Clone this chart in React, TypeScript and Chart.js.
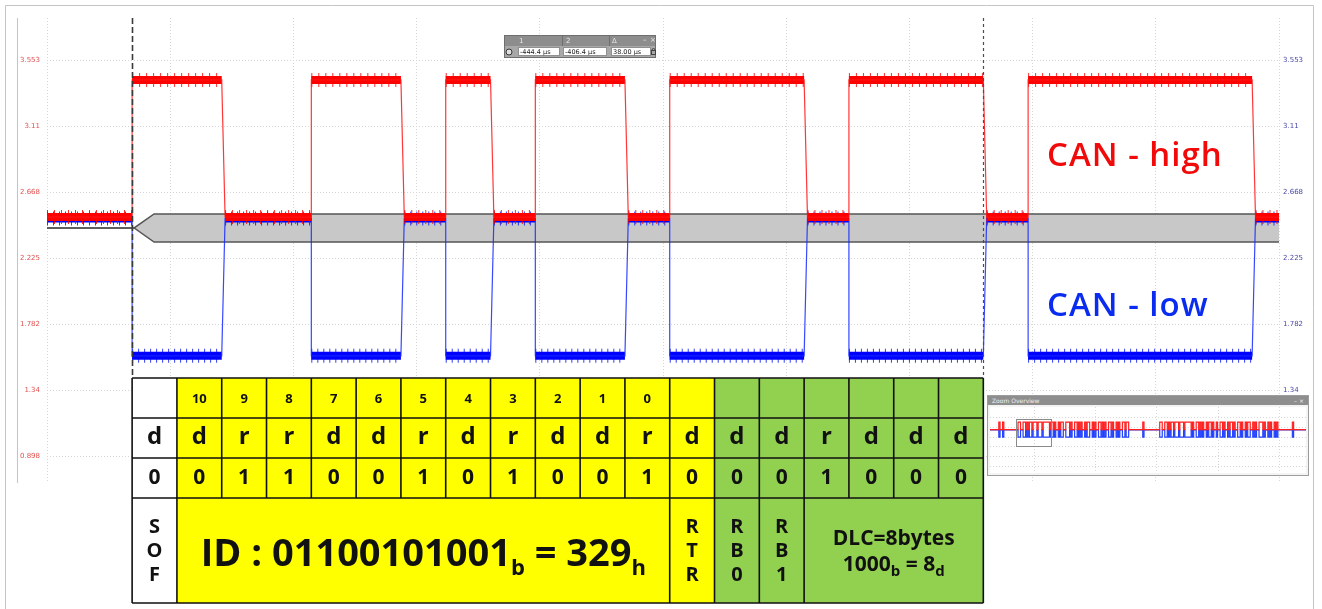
import { useEffect, useRef } from "react";
import { Chart, registerables } from "chart.js";

Chart.register(...registerables);

// ---------------- data ----------------
const BIT_TIME_US = 2;
const SOF_TIME_US = -444.4;
const X_MIN_US = -448.2;
const X_MAX_US = -393.2;
const xGridTimesUs = [-448.2, -442.7, -437.2, -431.7, -426.2, -420.7, -415.2, -409.7, -404.2, -398.7, -393.2];
const Y_MIN_V = 0.717;
const Y_MAX_V = 3.835;

const yTickValues = [3.553, 3.11, 2.668, 2.225, 1.782, 1.34, 0.898];
const yTickLabels = ["3.553", "3.11", "2.668", "2.225", "1.782", "1.34", "0.898"];
const yRightTickValues = [3.553, 3.11, 2.668, 2.225, 1.782, 1.34, 0.898];
const yRightTickLabels = ["3.553", "3.11", "2.668", "2.225", "1.782", "1.34", "0.898"];

// voltage of each bit time, starting at SOF
const canHighVolts = [3.42, 3.42, 2.5, 2.5, 3.42, 3.42, 2.5, 3.42, 2.5, 3.42, 3.42, 2.5, 3.42, 3.42, 3.42, 2.5, 3.42, 3.42, 3.42, 2.5, 3.42, 3.42, 3.42, 3.42, 3.42, 2.5];
const canLowVolts = [1.57, 1.57, 2.49, 2.49, 1.57, 1.57, 2.49, 1.57, 2.49, 1.57, 1.57, 2.49, 1.57, 1.57, 1.57, 2.49, 1.57, 1.57, 1.57, 2.49, 1.57, 1.57, 1.57, 1.57, 1.57, 2.49];
const CAN_HIGH_IDLE_V = 2.5;
const CAN_LOW_IDLE_V = 2.49;
const EDGE_RELEASE_US = 0.15;

// decoded-bus band
const busTimesUs = [-448.2, -444.31, -443.42, -393.2];
const busUpperVolts = [2.427, 2.427, 2.521, 2.521];
const busLowerVolts = [2.427, 2.427, 2.333, 2.333];

// cursors
const cursorTimesUs = [-444.4, -406.4];
const cursorHeaders = ["1", "2", "Δ"];
const cursorReadouts = ["-444.4 μs", "-406.4 μs", "38.00 μs"];

// series labels
const seriesLabels = ["CAN - high", "CAN - low"];

// bit table
const bitNumberRow = ["", "10", "9", "8", "7", "6", "5", "4", "3", "2", "1", "0", "", "", "", "", "", "", ""];
const bitStateRow = ["d", "d", "r", "r", "d", "d", "r", "d", "r", "d", "d", "r", "d", "d", "d", "r", "d", "d", "d"];
const bitValueRow = ["0", "0", "1", "1", "0", "0", "1", "0", "1", "0", "0", "1", "0", "0", "0", "1", "0", "0", "0"];
const fieldNames = ["SOF", "ID", "RTR", "RB0", "RB1", "DLC"];
const fieldSpans = [1, 11, 1, 1, 1, 4];
const fieldColors = ["#ffffff", "#ffff00", "#ffff00", "#92d050", "#92d050", "#92d050"];
type Seg = [string, boolean];
const idCaption: Seg[] = [["ID : 01100101001", false], ["b", true], [" = 329", false], ["h", true]];
const dlcCaptionLine1: Seg[] = [["DLC=8bytes", false]];
const dlcCaptionLine2: Seg[] = [["1000", false], ["b", true], [" = 8", false], ["d", true]];

// zoom overview
const OV_X_MIN_US = -489;
const OV_X_MAX_US = 13.7;
const OV_Y_MIN_V = -2.79;
const OV_Y_MAX_V = 5.26;
const ovGridTimesUs = [-418.3, -320.9, -223.5, -126.1, -28.7];
const ovGridVolts = [4.0, 2.8, 1.6, 0.4, -0.8, -2.0];
const ovBurstStartsUs = [-475, -444.4, -246, -219, -8];
const ovBurstBits = [
  "drrd",
  "ddrrddrdrddrdddrdddrdddddrddrdrrdrddrrdddrdrrddrdrdrrdrddrrdrdrrddrdrdrrddrdrrdrdrrddrddr",
  "d",
  "ddrrddrdrddrdddrdddrdddddrdrrddrdrdrrdrddrdrrdrrddrdrrdrddrdrrddrdrrdrddrrdrdrrdddrdrrdrdrrdrd",
  "d",
];

// ---------------- helpers ----------------
type Pt = { x: number; y: number | null };

function stepTrace(levels: number[], idle: number): Pt[] {
  const pts: Pt[] = [{ x: X_MIN_US, y: idle }];
  let prev = idle;
  levels.forEach((v, i) => {
    if (v === prev) return;
    const t = SOF_TIME_US + i * BIT_TIME_US;
    pts.push({ x: t, y: prev });
    pts.push({ x: t + (v === idle ? EDGE_RELEASE_US : 0), y: v });
    prev = v;
  });
  pts.push({ x: X_MAX_US, y: prev });
  return pts;
}

function levelBands(levels: number[], idle: number): Pt[] {
  const pts: Pt[] = [];
  let runStart = X_MIN_US;
  let runV = idle;
  const flush = (end: number) => {
    pts.push({ x: runStart, y: runV }, { x: end, y: runV }, { x: end, y: null });
  };
  levels.forEach((v, i) => {
    if (v === runV) return;
    const t = SOF_TIME_US + i * BIT_TIME_US;
    flush(t);
    runStart = t + (v === idle ? EDGE_RELEASE_US : 0);
    runV = v;
  });
  flush(X_MAX_US);
  return pts;
}

function overviewTrace(dom: number, rec: number): Pt[] {
  const pts: Pt[] = [{ x: OV_X_MIN_US, y: rec }];
  let prev = rec;
  ovBurstStartsUs.forEach((start, b) => {
    const bits = ovBurstBits[b];
    for (let i = 0; i <= bits.length; i++) {
      const v = i < bits.length && bits[i] === "d" ? dom : rec;
      if (v !== prev) {
        const t = start + i * BIT_TIME_US;
        pts.push({ x: t, y: prev }, { x: t, y: v });
        prev = v;
      }
    }
  });
  pts.push({ x: OV_X_MAX_US, y: prev });
  return pts;
}

function drawRich(ctx: CanvasRenderingContext2D, segs: Seg[], cx: number, baseline: number, size: number, subSize: number, subDrop: number) {
  const fam = '"Open Sans", "Noto Sans", sans-serif';
  const fMain = `bold ${size}px ${fam}`;
  const fSub = `bold ${subSize}px ${fam}`;
  let total = 0;
  const widths = segs.map(([t, sub]) => {
    ctx.font = sub ? fSub : fMain;
    const w = ctx.measureText(t).width;
    total += w;
    return w;
  });
  let x = cx - total / 2;
  ctx.textAlign = "left";
  ctx.textBaseline = "alphabetic";
  segs.forEach(([t, sub], i) => {
    ctx.font = sub ? fSub : fMain;
    ctx.fillText(t, x, sub ? baseline + subDrop : baseline);
    x += widths[i];
  });
}

const TABLE_ROWS_PX = [378, 418, 458, 498, 603];
const TFONT = '"Open Sans", "Noto Sans", sans-serif';

function drawTable(chart: any) {
  const ctx: CanvasRenderingContext2D = chart.ctx;
  const xs = chart.scales.x;
  const n = bitStateRow.length;
  const edges: number[] = [];
  for (let i = 0; i <= n; i++) edges.push(xs.getPixelForValue(SOF_TIME_US + i * BIT_TIME_US));
  const [r0, r1, r2, r3, r4] = TABLE_ROWS_PX;
  ctx.save();
  let c = 0;
  const fieldStart: number[] = [];
  fieldSpans.forEach((span, f) => {
    fieldStart.push(c);
    ctx.fillStyle = fieldColors[f];
    ctx.fillRect(edges[c], r0, edges[c + span] - edges[c], r4 - r0);
    c += span;
  });
  ctx.strokeStyle = "#111";
  ctx.lineWidth = 1.6;
  ctx.beginPath();
  TABLE_ROWS_PX.forEach((y) => {
    ctx.moveTo(edges[0], y);
    ctx.lineTo(edges[n], y);
  });
  edges.forEach((x) => {
    ctx.moveTo(x, r0);
    ctx.lineTo(x, r3);
  });
  fieldStart.forEach((s) => {
    ctx.moveTo(edges[s], r3);
    ctx.lineTo(edges[s], r4);
  });
  ctx.moveTo(edges[n], r3);
  ctx.lineTo(edges[n], r4);
  ctx.stroke();
  ctx.fillStyle = "#111";
  ctx.textAlign = "center";
  ctx.textBaseline = "middle";
  for (let i = 0; i < n; i++) {
    const cx = (edges[i] + edges[i + 1]) / 2;
    ctx.font = `bold 13px ${TFONT}`;
    if (bitNumberRow[i]) ctx.fillText(bitNumberRow[i], cx, (r0 + r1) / 2 + 1);
    ctx.font = `bold 24px ${TFONT}`;
    ctx.fillText(bitStateRow[i], cx, (r1 + r2) / 2 - 1);
    ctx.font = `bold 21px ${TFONT}`;
    ctx.fillText(bitValueRow[i], cx, (r2 + r3) / 2);
  }
  fieldNames.forEach((name, f) => {
    const s = fieldStart[f];
    const e = s + fieldSpans[f];
    const cx = (edges[s] + edges[e]) / 2;
    if (name === "ID") {
      drawRich(ctx, idCaption, cx, 566, 38, 22, 9);
    } else if (name === "DLC") {
      drawRich(ctx, dlcCaptionLine1, cx, 545, 21, 21, 0);
      drawRich(ctx, dlcCaptionLine2, cx, 571, 21, 15, 5);
    } else {
      ctx.font = `bold 20px ${TFONT}`;
      ctx.textAlign = "center";
      ctx.textBaseline = "middle";
      name.split("").forEach((ch, k) => ctx.fillText(ch, cx, 527 + k * 24));
    }
  });
  ctx.restore();
}

function drawToolbar(ctx: CanvasRenderingContext2D) {
  ctx.save();
  const x0 = 504, y0 = 35, w = 152, h = 23;
  ctx.fillStyle = "#a8a8a8";
  ctx.fillRect(x0, y0, w, h);
  ctx.fillStyle = "#8d8d8d";
  ctx.fillRect(x0, y0, w, 11);
  ctx.strokeStyle = "#6e6e6e";
  ctx.lineWidth = 1;
  ctx.strokeRect(x0 + 0.5, y0 + 0.5, w - 1, h - 1);
  ctx.beginPath();
  [562, 609].forEach((x) => {
    ctx.moveTo(x + 0.5, y0 + 1);
    ctx.lineTo(x + 0.5, y0 + 11);
  });
  ctx.stroke();
  ctx.font = '7px "DejaVu Sans", sans-serif';
  ctx.fillStyle = "#e8e8e8";
  ctx.textBaseline = "middle";
  ctx.textAlign = "left";
  [519, 566, 612].forEach((x, i) => ctx.fillText(cursorHeaders[i], x, y0 + 6));
  ctx.fillText("–", 643, y0 + 5);
  ctx.fillText("×", 650, y0 + 5);
  ctx.beginPath();
  ctx.arc(509, 52, 3, 0, Math.PI * 2);
  ctx.fillStyle = "#e0e0e0";
  ctx.fill();
  ctx.strokeStyle = "#333";
  ctx.stroke();
  const cells = [
    [518, 47, 42],
    [563, 47, 44],
    [611, 47, 40],
  ];
  cells.forEach(([cx, cy, cw], i) => {
    ctx.fillStyle = "#ffffff";
    ctx.fillRect(cx, cy, cw, 9);
    ctx.strokeStyle = "#909090";
    ctx.strokeRect(cx + 0.5, cy + 0.5, cw - 1, 8);
    ctx.fillStyle = "#222";
    ctx.font = '6.5px "DejaVu Sans", sans-serif';
    ctx.fillText(cursorReadouts[i], cx + 2, cy + 5);
  });
  ctx.strokeStyle = "#444";
  ctx.strokeRect(651.5, 50.5, 4, 4);
  ctx.beginPath();
  ctx.arc(653.5, 50, 1.5, Math.PI, 0);
  ctx.stroke();
  ctx.restore();
}

const framePlugin = {
  id: "frame",
  beforeDraw(chart: any) {
    const ctx: CanvasRenderingContext2D = chart.ctx;
    const a = chart.chartArea;
    ctx.save();
    ctx.fillStyle = "#ffffff";
    ctx.fillRect(0, 0, chart.width, chart.height);
    ctx.strokeStyle = "#c4c4c4";
    ctx.lineWidth = 1;
    ctx.beginPath();
    ctx.moveTo(5.5, chart.height);
    ctx.lineTo(5.5, 5.5);
    ctx.lineTo(1313.5, 5.5);
    ctx.lineTo(1313.5, chart.height);
    ctx.moveTo(17.5, a.top);
    ctx.lineTo(17.5, a.bottom);
    ctx.stroke();
    ctx.restore();
  },
};

const overlayPlugin = {
  id: "overlay",
  afterDatasetsDraw(chart: any) {
    const ctx: CanvasRenderingContext2D = chart.ctx;
    const a = chart.chartArea;
    const xs = chart.scales.x;
    ctx.save();
    cursorTimesUs.forEach((t, i) => {
      const x = Math.round(xs.getPixelForValue(t)) + 0.5;
      ctx.strokeStyle = i === 0 ? "#3a3a3a" : "#4a4a5a";
      ctx.lineWidth = i === 0 ? 1.6 : 1.2;
      ctx.setLineDash(i === 0 ? [6, 3] : [3, 3]);
      ctx.beginPath();
      ctx.moveTo(x, a.top);
      ctx.lineTo(x, TABLE_ROWS_PX[0]);
      ctx.stroke();
    });
    ctx.setLineDash([]);
    ctx.font = '600 33px "Open Sans", sans-serif';
    (ctx as any).letterSpacing = "1px";
    ctx.textAlign = "left";
    ctx.textBaseline = "middle";
    ctx.fillStyle = "#f00a0a";
    ctx.fillText(seriesLabels[0], 1047, 157);
    ctx.fillStyle = "#0a2cf0";
    ctx.fillText(seriesLabels[1], 1047, 307);
    (ctx as any).letterSpacing = "0px";
    ctx.restore();
    drawTable(chart);
    drawToolbar(ctx);
  },
};

const selectionPlugin = {
  id: "selection",
  afterDatasetsDraw(chart: any) {
    const ctx: CanvasRenderingContext2D = chart.ctx;
    const xs = chart.scales.x;
    const x1 = xs.getPixelForValue(X_MIN_US);
    const x2 = xs.getPixelForValue(X_MAX_US);
    ctx.save();
    ctx.strokeStyle = "#8a8a8a";
    ctx.lineWidth = 1;
    ctx.strokeRect(Math.round(x1) + 0.5, 12.5, Math.round(x2 - x1), 27);
    ctx.restore();
  },
};

export default function App() {
  const mainRef = useRef<HTMLCanvasElement>(null);
  const ovRef = useRef<HTMLCanvasElement>(null);

  useEffect(() => {
    document.body.style.margin = "0";
    const gridDash = [1, 2];
    const main = new Chart(mainRef.current as HTMLCanvasElement, {
      type: "line",
      data: {
        datasets: [
          { data: stepTrace(canHighVolts, CAN_HIGH_IDLE_V), borderColor: "rgba(255,20,20,0.85)", borderWidth: 1.2, order: 10 },
          { data: levelBands(canHighVolts, CAN_HIGH_IDLE_V), borderColor: "#ff0000", borderWidth: 8, borderCapStyle: "butt", order: 20 },
          { data: levelBands(canHighVolts, CAN_HIGH_IDLE_V), borderColor: "rgba(240,0,0,0.8)", borderWidth: 14, borderDash: [1, 6], borderCapStyle: "butt", order: 21 },
          { data: stepTrace(canLowVolts, CAN_LOW_IDLE_V), borderColor: "rgba(20,40,255,0.85)", borderWidth: 1.2, order: 40 },
          { data: levelBands(canLowVolts, CAN_LOW_IDLE_V), borderColor: "#0000ff", borderWidth: 8, borderCapStyle: "butt", order: 50 },
          { data: levelBands(canLowVolts, CAN_LOW_IDLE_V), borderColor: "rgba(0,16,240,0.8)", borderWidth: 14, borderDash: [1, 5], borderCapStyle: "butt", order: 51 },
          { data: busTimesUs.map((x, i) => ({ x, y: busUpperVolts[i] })), borderColor: "#555555", borderWidth: 1.5, fill: false, order: 100 },
          { data: busTimesUs.map((x, i) => ({ x, y: busLowerVolts[i] })), borderColor: "#555555", borderWidth: 1.5, fill: "-1", backgroundColor: "#c8c8c8", order: 101 },
        ] as any,
      },
      options: {
        responsive: false,
        animation: false,
        devicePixelRatio: 1,
        layout: { padding: { left: 0, right: 0, top: 18, bottom: 126 } },
        plugins: { legend: { display: false }, tooltip: { enabled: false }, title: { display: false } },
        elements: { point: { radius: 0 }, line: { tension: 0 } },
        scales: {
          x: {
            type: "linear",
            min: X_MIN_US,
            max: X_MAX_US,
            afterBuildTicks: (axis: any) => {
              axis.ticks = xGridTimesUs.map((v) => ({ value: v }));
            },
            ticks: { display: false },
            grid: { color: "#d6d6d6", lineWidth: 1, drawTicks: false },
            border: { display: false, dash: gridDash },
            afterFit: (s: any) => {
              s.height = 0;
            },
          },
          y: {
            position: "left",
            min: Y_MIN_V,
            max: Y_MAX_V,
            afterBuildTicks: (axis: any) => {
              axis.ticks = yTickValues.map((v) => ({ value: v }));
            },
            ticks: {
              autoSkip: false,
              padding: 7,
              color: "#e05050",
              font: { family: '"DejaVu Sans", sans-serif', size: 7 },
              callback: (_v: any, i: number) => yTickLabels[i],
            },
            grid: { color: "#d6d6d6", lineWidth: 1, drawTicks: false },
            border: { display: false, dash: gridDash },
            afterFit: (s: any) => {
              s.width = 47;
            },
          },
          y1: {
            position: "right",
            min: Y_MIN_V,
            max: Y_MAX_V,
            afterBuildTicks: (axis: any) => {
              axis.ticks = yRightTickValues.map((v) => ({ value: v }));
            },
            ticks: {
              autoSkip: false,
              padding: 4,
              color: "#4848a8",
              font: { family: '"DejaVu Sans", sans-serif', size: 7 },
              callback: (_v: any, i: number) => yRightTickLabels[i],
            },
            grid: { display: false, drawTicks: false },
            border: { display: false },
            afterFit: (s: any) => {
              s.width = 43;
            },
          },
        },
      } as any,
      plugins: [framePlugin, overlayPlugin],
    });

    const ov = new Chart(ovRef.current as HTMLCanvasElement, {
      type: "line",
      data: {
        datasets: [
          { data: overviewTrace(3.42, 2.5), borderColor: "#ff2020", borderWidth: 1.2, order: 1 },
          { data: overviewTrace(1.58, 2.46), borderColor: "#2040ff", borderWidth: 1.2, order: 2 },
        ] as any,
      },
      options: {
        responsive: false,
        animation: false,
        devicePixelRatio: 1,
        layout: { padding: 0 },
        plugins: { legend: { display: false }, tooltip: { enabled: false } },
        elements: { point: { radius: 0 }, line: { tension: 0 } },
        scales: {
          x: {
            type: "linear",
            min: OV_X_MIN_US,
            max: OV_X_MAX_US,
            afterBuildTicks: (axis: any) => {
              axis.ticks = ovGridTimesUs.map((v) => ({ value: v }));
            },
            ticks: { display: false },
            grid: { color: "#d8d8d8", drawTicks: false },
            border: { display: false, dash: [1, 2] },
            afterFit: (s: any) => {
              s.height = 0;
            },
          },
          y: {
            min: OV_Y_MIN_V,
            max: OV_Y_MAX_V,
            afterBuildTicks: (axis: any) => {
              axis.ticks = ovGridVolts.map((v) => ({ value: v }));
            },
            ticks: { display: false },
            grid: { color: "#d8d8d8", drawTicks: false },
            border: { display: false, dash: [1, 2] },
            afterFit: (s: any) => {
              s.width = 0;
            },
          },
        },
      } as any,
      plugins: [selectionPlugin],
    });

    return () => {
      main.destroy();
      ov.destroy();
    };
  }, []);

  return (
    <div style={{ position: "relative", width: 1322, height: 609, background: "#fff", overflow: "hidden" }}>
      <canvas ref={mainRef} width={1322} height={609} style={{ position: "absolute", left: 0, top: 0, width: 1322, height: 609 }} />
      <div
        style={{
          position: "absolute",
          left: 987,
          top: 395,
          width: 322,
          height: 81,
          boxSizing: "border-box",
          border: "1px solid #9c9c9c",
          background: "#f4f4f4",
        }}
      >
        <div
          style={{
            height: 9,
            background: "#8e8e8e",
            color: "#eeeeee",
            font: '6px "DejaVu Sans", sans-serif',
            lineHeight: "9px",
            paddingLeft: 4,
            position: "relative",
          }}
        >
          Zoom Overview
          <span style={{ position: "absolute", right: 4, top: 0 }}>– ×</span>
        </div>
        <canvas
          ref={ovRef}
          width={316}
          height={66}
          style={{ position: "absolute", left: 2, top: 11, width: 316, height: 66, border: "none", background: "#fff" }}
        />
      </div>
    </div>
  );
}
